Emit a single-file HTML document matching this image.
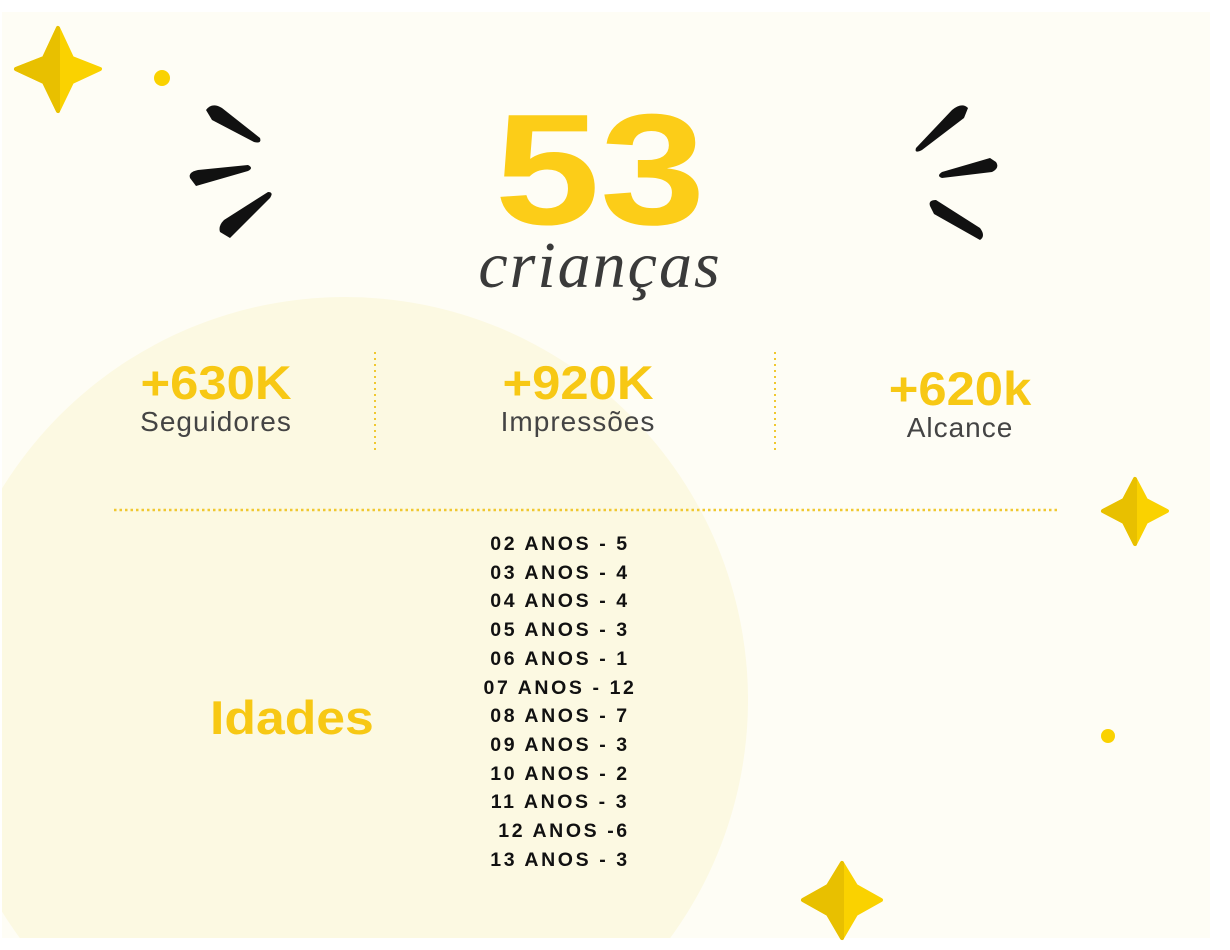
<!DOCTYPE html>
<html style="overflow:hidden"><head><meta charset="utf-8"><style>
html,body{margin:0;width:1230px;height:950px;overflow:hidden}
body{background:#fff;position:relative;font-family:"Liberation Sans",sans-serif}
.abs{position:absolute}
.stat{position:absolute;text-align:center;width:300px}
.big{color:#f7c814;font-weight:bold;font-size:47px;line-height:46px;transform:scaleX(1.08)}
.lbl{color:#444;font-size:28px;letter-spacing:1px}
.ages{position:absolute;left:440px;top:530px;width:240px;text-align:center;font-weight:900;font-size:19.5px;letter-spacing:2.6px;line-height:28.7px;color:#111}
</style></head><body>
<svg class="abs" style="left:0;top:0" width="1230" height="950">
<defs><clipPath id="c"><rect x="2" y="12" width="1208" height="926"/></clipPath></defs>
<rect x="2" y="12" width="1208" height="926" fill="#fefdf5"/>
<circle cx="345" cy="700" r="403" fill="#fcf9e2" clip-path="url(#c)"/>
<g><path d="M58 28 L72 58 L100 69 L72 82 L58 111 L44 82 L16 69 L44 58Z" fill="#fad200" stroke="#fad200" stroke-width="4" stroke-linejoin="round"/><path d="M58 28 L58 111 L44 82 L16 69 L44 58Z" fill="#e8c000" stroke="#e8c000" stroke-width="4" stroke-linejoin="round"/></g>
<g><path d="M1135 479 L1146 500 L1167 511 L1146 522 L1135 544 L1124 522 L1103 511 L1124 500Z" fill="#fad200" stroke="#fad200" stroke-width="4" stroke-linejoin="round"/><path d="M1135 479 L1135 544 L1124 522 L1103 511 L1124 500Z" fill="#e8c000" stroke="#e8c000" stroke-width="4" stroke-linejoin="round"/></g>
<g><path d="M842 863 L856 886 L881 900 L856 914 L842 938 L828 914 L803 900 L828 886Z" fill="#fad200" stroke="#fad200" stroke-width="4" stroke-linejoin="round"/><path d="M842 863 L842 938 L828 914 L803 900 L828 886Z" fill="#e8c000" stroke="#e8c000" stroke-width="4" stroke-linejoin="round"/></g>
<circle cx="162" cy="78" r="8" fill="#fad200"/>
<circle cx="1108" cy="736" r="7" fill="#fad200"/>
<g fill="#111">
<path d="M206 110 Q212 102 222 108 L260 138 Q262 144 254 142 L212 120Z"/>
<path d="M190 178 Q188 172 198 170 L248 165 Q254 168 248 171 L196 186Z"/>
<path d="M220 232 Q218 226 224 220 L268 192 Q274 192 270 198 L230 238Z"/>
</g>
<g fill="#111">
<path d="M968 108 Q962 102 952 110 L916 148 Q914 154 922 150 L964 118Z"/>
<path d="M996 162 Q1000 168 992 172 L942 178 Q936 176 942 172 L990 158Z"/>
<path d="M930 206 Q928 200 936 200 L980 228 Q986 236 980 240 L934 214Z"/>
</g>
<line x1="375" y1="352" x2="375" y2="454" stroke="#f0c830" stroke-width="2" stroke-dasharray="2 4"/>
<line x1="775" y1="352" x2="775" y2="454" stroke="#f0c830" stroke-width="2" stroke-dasharray="2 4"/>
<line x1="114" y1="510" x2="1060" y2="510" stroke="#f0c830" stroke-width="2.5" stroke-dasharray="2.5 3"/>
</svg>
<div class="abs" style="left:440px;top:80px;width:320px;text-align:center;color:#fccd18;font-weight:900;font-size:158px;line-height:180px;transform:scaleX(1.2)">53</div>
<div class="abs" style="left:440px;top:228px;width:320px;text-align:center;color:#3a3a3a;font-family:'Liberation Serif',serif;font-style:italic;font-size:66px;letter-spacing:2px">crianças</div>
<div class="stat" style="left:66px;top:360px"><div class="big">+630K</div><div class="lbl">Seguidores</div></div>
<div class="stat" style="left:428px;top:360px"><div class="big">+920K</div><div class="lbl">Impressões</div></div>
<div class="stat" style="left:810px;top:366px"><div class="big">+620k</div><div class="lbl">Alcance</div></div>
<div class="abs" style="left:210px;top:690px;color:#f7c814;font-weight:bold;font-size:47px;transform:scaleX(1.1);transform-origin:left">Idades</div>
<div class="ages">
<div>02 ANOS - 5</div><div>03 ANOS - 4</div><div>04 ANOS - 4</div><div>05 ANOS - 3</div><div>06 ANOS - 1</div><div>07 ANOS - 12</div><div>08 ANOS - 7</div><div>09 ANOS - 3</div><div>10 ANOS - 2</div><div>11 ANOS - 3</div><div>&nbsp;12 ANOS -6</div><div>13 ANOS - 3</div>
</div>
</body></html>
